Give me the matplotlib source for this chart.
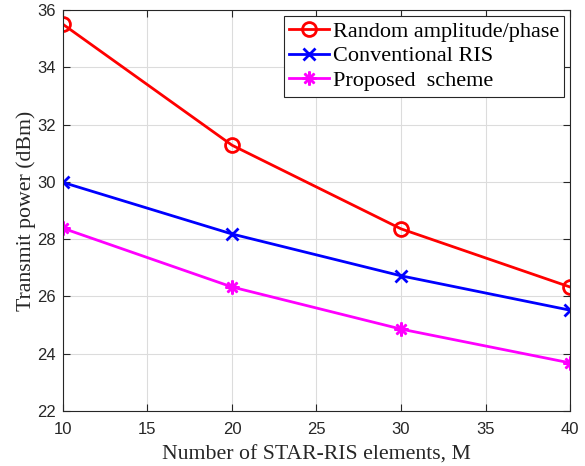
import matplotlib
matplotlib.use("Agg")
import matplotlib.pyplot as plt

M = [10, 20, 30, 40]
random_phase = [35.5, 31.28, 28.36, 26.33]
conventional_ris = [29.98, 28.18, 26.72, 25.52]
proposed = [28.38, 26.33, 24.86, 23.68]

fig = plt.figure(figsize=(5.85, 4.66), dpi=100)
ax = fig.add_axes([63 / 585, 1 - 411 / 466, 507 / 585, 401 / 466])

ax.plot(M, random_phase, color="#ff0000", lw=2, marker="o", ms=10, mfc="none",
        mew=2, label="Random amplitude/phase")
ax.plot(M, conventional_ris, color="#0000ff", lw=2, marker="x", ms=8,
        mew=2, label="Conventional RIS")
ax.plot(M, proposed, color="#ff00ff", lw=2, marker=(8, 2, 0), ms=10,
        mew=1.8, label="Proposed  scheme")

ax.set_xlim(10, 40)
ax.set_ylim(22, 36)
ax.set_xticks(range(10, 41, 5))
ax.set_yticks(range(22, 37, 2))
ax.grid(True, color="#dcdcdc", lw=0.8)
ax.set_axisbelow(True)
ax.tick_params(direction="in", top=True, right=True, labelsize=12,
               colors="#262626", length=5, width=0.8)
ax.tick_params(axis="x", pad=8)
ax.tick_params(axis="y", pad=5)
for lbl in ax.get_xticklabels() + ax.get_yticklabels():
    lbl.set_fontfamily("Liberation Sans")
for s in ax.spines.values():
    s.set_color("#262626")
    s.set_linewidth(0.8)

ax.set_xlabel("Number of STAR-RIS elements, M", fontfamily="Liberation Serif",
              fontsize=15.7, color="#262626", labelpad=6)
ax.set_ylabel("Transmit power (dBm)", fontfamily="Liberation Serif",
              fontsize=15.7, color="#262626", labelpad=1)

leg = ax.legend(loc="upper right", prop={"family": "Liberation Serif", "size": 16},
                fancybox=False, edgecolor="#262626", framealpha=1,
                handlelength=1.8, handletextpad=0.15, borderpad=0.25,
                labelspacing=0.19, borderaxespad=0.25)
leg.get_frame().set_linewidth(0.8)

fig.savefig("out.png", dpi=100)
